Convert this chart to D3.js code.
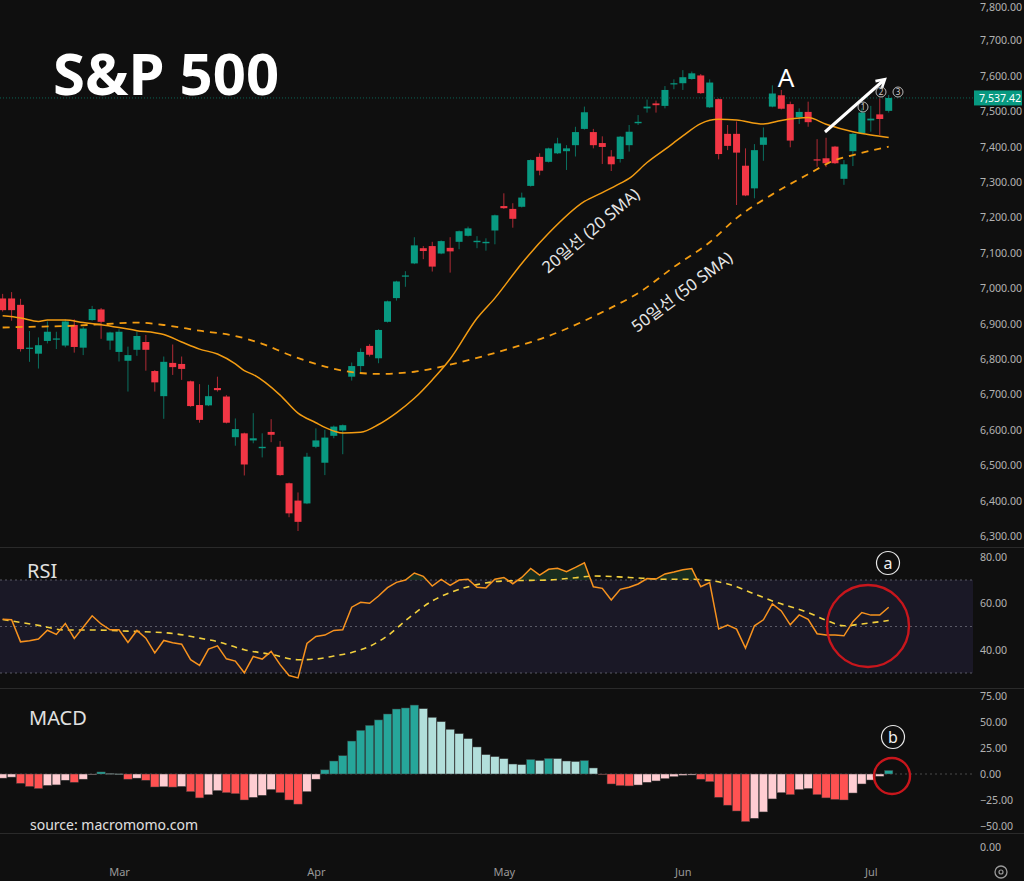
<!DOCTYPE html>
<html>
<head>
<meta charset="utf-8">
<script src="https://cdn.jsdelivr.net/npm/d3@7"></script>
<style>
	html, body { margin: 0; padding: 0; background: #0f0f0f; }
	svg { display: block; }
	text { font-family: "Noto Sans", "Noto Sans CJK KR", sans-serif; }
</style>
</head>
<body>
<div class="data_display"></div>
<script>
//Daily candles, Feb 10 to Jul 6 (bar index 0..99)
var opens = [6971, 6971, 6953, 6829, 6815, 6851, 6856, 6838, 6896, 6832,
	6910, 6940, 6852, 6820, 6795, 6826, 6848, 6766, 6695, 6789,
	6786, 6737, 6670, 6669, 6718, 6694, 6579, 6590, 6570, 6548,
	6594, 6552, 6449, 6400, 6392, 6552, 6507, 6583, 6598, 6750,
	6780, 6837, 6802, 6905, 6972, 7033, 7070, 7113, 7119, 7098,
	7114, 7131, 7148, 7130, 7127, 7163, 7232, 7224, 7230, 7289,
	7371, 7357, 7381, 7387, 7404, 7450, 7441, 7410, 7372, 7365,
	7404, 7466, 7508, 7522, 7515, 7576, 7579, 7591, 7601, 7511,
	7534, 7436, 7436, 7346, 7282, 7405, 7513, 7545, 7520, 7483,
	7498, 7364, 7367, 7400, 7309, 7387, 7438, 7474, 7491, 7501];
var highs = [6984, 6989, 6970, 6879, 6861, 6906, 6877, 6912, 6912, 6891,
	6950, 6944, 6877, 6884, 6835, 6877, 6868, 6769, 6807, 6841,
	6807, 6739, 6729, 6727, 6750, 6698, 6632, 6592, 6647, 6590,
	6630, 6568, 6451, 6423, 6535, 6604, 6600, 6612, 6615, 6790,
	6830, 6842, 6884, 6965, 7021, 7048, 7144, 7119, 7131, 7135,
	7144, 7163, 7174, 7147, 7141, 7208, 7268, 7240, 7270, 7364,
	7381, 7397, 7425, 7404, 7456, 7513, 7450, 7429, 7390, 7430,
	7461, 7489, 7533, 7530, 7571, 7590, 7616, 7612, 7605, 7590,
	7536, 7461, 7471, 7395, 7407, 7454, 7573, 7560, 7527, 7508,
	7527, 7421, 7425, 7402, 7362, 7438, 7508, 7515, 7536, 7546];
var lows = [6934, 6908, 6821, 6792, 6773, 6844, 6828, 6833, 6818, 6811,
	6908, 6857, 6826, 6793, 6708, 6809, 6767, 6708, 6631, 6755,
	6741, 6665, 6620, 6667, 6708, 6618, 6555, 6471, 6562, 6522,
	6565, 6470, 6353, 6314, 6390, 6548, 6472, 6576, 6531, 6739,
	6759, 6807, 6788, 6903, 6965, 7004, 7068, 7082, 7047, 7096,
	7044, 7110, 7146, 7113, 7106, 7124, 7224, 7171, 7228, 7287,
	7319, 7355, 7379, 7334, 7372, 7448, 7395, 7351, 7331, 7355,
	7386, 7461, 7496, 7496, 7508, 7562, 7560, 7589, 7549, 7509,
	7364, 7390, 7235, 7260, 7254, 7360, 7511, 7505, 7398, 7464,
	7456, 7343, 7342, 7351, 7292, 7345, 7436, 7442, 7433, 7496];
var closes = [6938, 6938, 6828, 6832, 6839, 6877, 6858, 6906, 6834, 6886,
	6941, 6905, 6875, 6877, 6811, 6865, 6826, 6734, 6792, 6777,
	6772, 6667, 6628, 6695, 6712, 6620, 6602, 6502, 6576, 6552,
	6586, 6472, 6364, 6340, 6524, 6570, 6578, 6609, 6613, 6780,
	6820, 6812, 6882, 6963, 7019, 7036, 7121, 7105, 7061, 7133,
	7104, 7161, 7169, 7134, 7131, 7206, 7226, 7196, 7256, 7362,
	7332, 7395, 7409, 7395, 7441, 7497, 7404, 7399, 7350, 7428,
	7442, 7470, 7513, 7517, 7560, 7579, 7596, 7607, 7551, 7581,
	7379, 7402, 7383, 7262, 7390, 7426, 7550, 7507, 7417, 7498,
	7469, 7361, 7353, 7353, 7350, 7436, 7496, 7479, 7478, 7537.42];

//Moving averages: [bar index, value]
var sma20 = [[0, 6922], [2, 6916], [4, 6906], [5, 6910], [7, 6910], [9, 6903], [11, 6897],
	[13, 6889], [15, 6880], [17, 6874], [18, 6869], [20, 6848], [22, 6828], [24, 6814],
	[26, 6786], [27, 6767], [28, 6756], [31, 6698], [33, 6647], [35, 6620], [36, 6607],
	[38, 6591], [40, 6593], [42, 6615], [44, 6648], [46, 6689], [48, 6741], [50, 6800],
	[53, 6915], [55, 6972], [58, 7070], [61, 7155], [65, 7245], [67, 7270], [69, 7296],
	[70, 7310], [72, 7355], [74, 7392], [76, 7430], [78, 7465], [80, 7477], [82, 7475],
	[85, 7464], [87, 7474], [90, 7482], [92, 7463], [95, 7442], [97, 7433], [99, 7426]];
var sma50 = [[0, 6889], [3, 6891], [7, 6893], [11, 6898], [15, 6903], [18, 6896], [22, 6880],
	[26, 6865], [29, 6843], [32, 6812], [35, 6786], [38, 6767], [42, 6758], [46, 6764],
	[50, 6784], [54, 6810], [57, 6832], [61, 6865], [65, 6908], [68, 6945], [71, 6986],
	[75, 7060], [79, 7130], [82, 7198], [86, 7265], [90, 7322], [93, 7362], [95, 7376], [99, 7400]];

var rsi = [53.1, 52.9, 43.4, 43.9, 44.6, 48.4, 46.6, 51.3, 44.9, 49.7,
	54.6, 51.1, 48.6, 48.6, 43.1, 48.3, 45, 38.6, 44, 43,
	42.4, 35.7, 33.3, 40.3, 41.7, 36.1, 35.1, 30.1, 37.1, 36,
	39.3, 33.6, 28.9, 27.9, 42.7, 45.7, 46.3, 48.3, 48.6, 58.3,
	60.4, 60, 63.1, 66.7, 69, 70, 73, 71.6, 67.4, 70.3,
	67.7, 70, 70.3, 66.9, 66.6, 70.3, 71.1, 68.4, 71.1, 75,
	72.1, 74.6, 75, 73.6, 75.4, 77.4, 67.1, 66.4, 61.4, 66,
	66.9, 68.3, 70.6, 70.4, 72.6, 73.4, 74.4, 74.9, 67.1, 68.9,
	48.9, 50.6, 48.9, 40.7, 50.3, 52.9, 59.7, 56.7, 50.7, 55,
	53.1, 46.9, 46.3, 46.3, 46, 52.1, 56, 54.9, 54.9, 58.3];
var rsiMa = [[0, 53], [4, 50.5], [7, 48.5], [10, 48.5], [14, 48], [19, 47], [22, 45], [24, 43.5],
	[27, 40], [30, 38], [33, 35.7], [35, 36], [37, 37.3], [39, 38.8], [41, 41.5], [43, 46],
	[45, 52.5], [48, 61], [50, 64.6], [53, 68], [55, 69.3], [57, 69.7], [61, 70], [64, 71],
	[66, 71.7], [70, 71.1], [74, 70.3], [77, 70.3], [81, 68.3], [84, 64], [86, 61], [90, 56],
	[92, 52.7], [94, 50.3], [96, 51.1], [99, 52.6]];

var macdHist = [-4, -3, -9, -12, -14, -11, -10.5, -6, -8, -5,
	-0.5, 2, 0.5, 0.2, -5, -4, -6, -12.5, -12.3, -12.6,
	-12, -17, -23, -20, -16, -18, -19, -25, -22.5, -20.5,
	-15, -18, -25, -29, -17, -5, 4, 12.5, 17.6, 31.7,
	42, 46.8, 52, 57.7, 62.5, 63.5, 66.3, 62.8, 54.5, 50.3,
	43, 38.8, 34, 26, 18.6, 16.7, 14.7, 9.6, 9, 14,
	13, 15, 14.8, 12.5, 12, 13, 5.8, -0.6, -9.6, -11.2,
	-11.5, -10.6, -8, -6.7, -4.5, -2.6, -1.3, -1.0, -5, -7.4,
	-22.4, -30, -35.6, -45.8, -42.6, -36.5, -24, -18, -19.9, -15,
	-14, -19.9, -23, -24.5, -25, -18.3, -9.6, -5.8, -2.2, 3.5];

var priceTicks = [6300, 6400, 6500, 6600, 6700, 6800, 6900, 7000, 7100, 7200, 7300, 7400, 7500, 7600, 7700, 7800];
var rsiTicks = [40, 60, 80];
var macdTicks = [-50, -25, 0, 25, 50, 75];
var monthIdx = [13, 35, 56, 76, 97];
var monthNames = ["Mar", "Apr", "May", "Jun", "Jul"];

var w = 1024;
var h = 881;
var plotRight = 973;
var axisFont = "10.6px";
var upColor = "#089981";
var downColor = "#f23645";

var svg = d3.select(".data_display").append("svg")
	.attr("width", w)
	.attr("height", h);

svg.append("rect")
	.attr("width", w)
	.attr("height", h)
	.attr("fill", "#0f0f0f");

//Scales
var x = d3.scaleLinear().domain([0, 99]).range([2.65, 888.7]);
var y = d3.scaleLinear().domain([6300, 7800]).range([536, 5]);
var yRsi = d3.scaleLinear().domain([30, 70]).range([673, 580]);
var yMacd = d3.scaleLinear().domain([-50, 75]).range([826, 696]);

var bars = d3.range(closes.length);

//Pane separators
[547.5, 688.5, 833.5].forEach(function(py){
	svg.append("line")
		.attr("x1", 0).attr("x2", w)
		.attr("y1", py).attr("y2", py)
		.attr("stroke", "#2a2a2a");
});

function rightAxis(scale, ticks){
	return svg.append("g")
		.attr("transform", "translate(" + plotRight + ",0)")
		.call(d3.axisRight(scale).tickValues(ticks).tickSize(0).tickPadding(7).tickFormat(d3.format(",.2f")))
		.call(function(g){ g.select(".domain").remove(); })
		.call(function(g){
			g.selectAll("text")
				.attr("fill", "#b2b2b2")
				.style("font-size", axisFont);
		});
}

/* ---------- price pane ---------- */
var main = svg.append("g");

//last price line
main.append("line")
	.attr("x1", 0).attr("x2", plotRight)
	.attr("y1", y(closes[closes.length - 1])).attr("y2", y(closes[closes.length - 1]))
	.attr("stroke", upColor)
	.attr("stroke-opacity", 0.6)
	.attr("stroke-dasharray", "1,2");

main.selectAll("line.wick")
	.data(bars)
	.enter()
	.append("line")
	.attr("class", "wick")
	.attr("x1", function(i){ return x(i); })
	.attr("x2", function(i){ return x(i); })
	.attr("y1", function(i){ return y(highs[i]); })
	.attr("y2", function(i){ return y(lows[i]); })
	.attr("stroke", function(i){ return closes[i] >= opens[i] ? upColor : downColor; })
	.attr("stroke-opacity", 0.7);

main.selectAll("rect.body")
	.data(bars)
	.enter()
	.append("rect")
	.attr("class", "body")
	.attr("x", function(i){ return x(i) - 3.5; })
	.attr("width", 7)
	.attr("y", function(i){ return y(Math.max(opens[i], closes[i])); })
	.attr("height", function(i){ return Math.max(1.2, Math.abs(y(opens[i]) - y(closes[i]))); })
	.attr("fill", function(i){ return closes[i] >= opens[i] ? upColor : downColor; });

var maLine = d3.line()
	.x(function(d){ return x(d[0]); })
	.y(function(d){ return y(d[1]); })
	.curve(d3.curveMonotoneX);

main.append("path")
	.attr("d", maLine(sma50))
	.attr("fill", "none")
	.attr("stroke", "#f39c12")
	.attr("stroke-width", 1.8)
	.attr("stroke-dasharray", "7,6");

main.append("path")
	.attr("d", maLine(sma20))
	.attr("fill", "none")
	.attr("stroke", "#f39c12")
	.attr("stroke-width", 1.5);

//top label sits on the window edge, nudge it in
rightAxis(y, priceTicks)
	.selectAll(".tick")
	.filter(function(d){ return d === 7800; })
	.select("text")
	.attr("dy", "0.55em");

//last price tag
var tag = svg.append("g").attr("transform", "translate(974," + y(closes[closes.length - 1]) + ")");
tag.append("rect")
	.attr("x", 0).attr("y", -7.5)
	.attr("width", 48).attr("height", 15)
	.attr("fill", upColor);
tag.append("text")
	.attr("x", 5).attr("y", 4)
	.attr("fill", "#ffffff")
	.style("font-size", axisFont)
	.text(d3.format(",.2f")(closes[closes.length - 1]));

//title and notes
svg.append("text")
	.attr("x", 53).attr("y", 95)
	.attr("fill", "#ffffff")
	.style("font-size", "58px")
	.style("font-weight", "bold")
	.text("S&P 500");

svg.append("text")
	.attr("x", 786).attr("y", 87)
	.attr("text-anchor", "middle")
	.attr("fill", "#ffffff")
	.style("font-size", "26px")
	.text("A");

svg.append("defs").append("marker")
	.attr("id", "head")
	.attr("viewBox", "0 0 10 10")
	.attr("refX", 7).attr("refY", 5)
	.attr("markerWidth", 4).attr("markerHeight", 4)
	.attr("orient", "auto")
	.append("path")
	.attr("d", "M1,1 L8,5 L1,9")
	.attr("fill", "none")
	.attr("stroke", "#ffffff")
	.attr("stroke-width", 2.2);

svg.append("line")
	.attr("x1", 825).attr("y1", 132)
	.attr("x2", 884).attr("y2", 80)
	.attr("stroke", "#ffffff")
	.attr("stroke-width", 3)
	.attr("marker-end", "url(#head)");

[[863, 107, "1"], [881, 92, "2"], [898, 92, "3"]].forEach(function(c){
	svg.append("circle")
		.attr("cx", c[0]).attr("cy", c[1]).attr("r", 5)
		.attr("fill", "none")
		.attr("stroke", "#c8c8c8")
		.attr("stroke-width", 0.9);
	svg.append("text")
		.attr("x", c[0]).attr("y", c[1] + 3)
		.attr("text-anchor", "middle")
		.attr("fill", "#d0d0d0")
		.style("font-size", "8px")
		.text(c[2]);
});

svg.append("text")
	.attr("transform", "translate(548,274) rotate(-40)")
	.attr("fill", "#e6e6e6")
	.style("font-size", "16.5px")
	.text("20일선 (20 SMA)");

svg.append("text")
	.attr("transform", "translate(637,333) rotate(-37)")
	.attr("fill", "#e6e6e6")
	.style("font-size", "16.5px")
	.text("50일선 (50 SMA)");

/* ---------- RSI pane ---------- */
var rsiG = svg.append("g");

rsiG.append("rect")
	.attr("x", 0).attr("width", plotRight)
	.attr("y", yRsi(70)).attr("height", yRsi(30) - yRsi(70))
	.attr("fill", "#1a1826");

[70, 50, 30].forEach(function(v){
	rsiG.append("line")
		.attr("x1", 0).attr("x2", plotRight)
		.attr("y1", yRsi(v)).attr("y2", yRsi(v))
		.attr("stroke", "#5a5a66")
		.attr("stroke-dasharray", "2,3");
});

svg.select("defs").append("clipPath")
	.attr("id", "overbought")
	.append("rect")
	.attr("x", 0).attr("y", 548)
	.attr("width", plotRight).attr("height", yRsi(70) - 548);

rsiG.append("path")
	.attr("clip-path", "url(#overbought)")
	.attr("d", d3.area()
		.x(function(i){ return x(i); })
		.y0(yRsi(70))
		.y1(function(i){ return yRsi(rsi[i]); })(bars))
	.attr("fill", "#1c3622")
	.attr("fill-opacity", 0.8);

rsiG.append("path")
	.attr("d", d3.line()
		.x(function(d){ return x(d[0]); })
		.y(function(d){ return yRsi(d[1]); })
		.curve(d3.curveMonotoneX)(rsiMa))
	.attr("fill", "none")
	.attr("stroke", "#f2cf3c")
	.attr("stroke-width", 1.6)
	.attr("stroke-dasharray", "6,5");

rsiG.append("path")
	.attr("d", d3.line()
		.x(function(i){ return x(i); })
		.y(function(i){ return yRsi(rsi[i]); })(bars))
	.attr("fill", "none")
	.attr("stroke", "#f7921e")
	.attr("stroke-width", 1.5);

rightAxis(yRsi, rsiTicks);

svg.append("text")
	.attr("x", 27).attr("y", 578)
	.attr("fill", "#e0e0e0")
	.style("font-size", "20px")
	.text("RSI");

svg.append("circle")
	.attr("cx", 868).attr("cy", 626).attr("r", 41)
	.attr("fill", "none")
	.attr("stroke", "#c8161c")
	.attr("stroke-width", 2.4);

svg.append("circle")
	.attr("cx", 888).attr("cy", 563).attr("r", 11.5)
	.attr("fill", "none")
	.attr("stroke", "#e8e8e8")
	.attr("stroke-width", 1.2);
svg.append("text")
	.attr("x", 888).attr("y", 568.5)
	.attr("text-anchor", "middle")
	.attr("fill", "#f0f0f0")
	.style("font-size", "16px")
	.text("a");

/* ---------- MACD pane ---------- */
var macdG = svg.append("g");

macdG.append("line")
	.attr("x1", 0).attr("x2", plotRight)
	.attr("y1", yMacd(0)).attr("y2", yMacd(0))
	.attr("stroke", "#4a4a4a")
	.attr("stroke-dasharray", "2,3");

function histColor(i){
	var v = macdHist[i];
	var prev = i > 0 ? macdHist[i - 1] : v;
	if(v >= 0){
		return v >= prev ? "#26a69a" : "#b2dfdb";
	}
	return v < prev ? "#ff5252" : "#ffcdd2";
}

macdG.selectAll("rect")
	.data(bars)
	.enter()
	.append("rect")
	.attr("x", function(i){ return x(i) - 4.2; })
	.attr("width", 8.4)
	.attr("y", function(i){ return Math.min(yMacd(0), yMacd(macdHist[i])); })
	.attr("height", function(i){ return Math.max(0.8, Math.abs(yMacd(macdHist[i]) - yMacd(0))); })
	.attr("fill", histColor)
	.attr("stroke", "#3a3a3a")
	.attr("stroke-width", 0.5);

rightAxis(yMacd, macdTicks);

svg.append("text")
	.attr("x", 29).attr("y", 725)
	.attr("fill", "#e0e0e0")
	.style("font-size", "20px")
	.text("MACD");

svg.append("text")
	.attr("x", 30).attr("y", 830)
	.attr("fill", "#e0e0e0")
	.style("font-size", "14px")
	.text("source: macromomo.com");

svg.append("circle")
	.attr("cx", 892).attr("cy", 776).attr("r", 18)
	.attr("fill", "none")
	.attr("stroke", "#c8161c")
	.attr("stroke-width", 2.4);

svg.append("circle")
	.attr("cx", 893).attr("cy", 737).attr("r", 11.5)
	.attr("fill", "none")
	.attr("stroke", "#e8e8e8")
	.attr("stroke-width", 1.2);
svg.append("text")
	.attr("x", 893).attr("y", 742.5)
	.attr("text-anchor", "middle")
	.attr("fill", "#f0f0f0")
	.style("font-size", "16px")
	.text("b");

//empty bottom pane label
svg.append("text")
	.attr("x", 980).attr("y", 851)
	.attr("fill", "#b2b2b2")
	.style("font-size", axisFont)
	.text("0.00");

/* ---------- time axis ---------- */
svg.append("g")
	.attr("transform", "translate(0,868)")
	.call(d3.axisBottom(x).tickValues(monthIdx).tickSize(0).tickPadding(0)
		.tickFormat(function(d, i){ return monthNames[i]; }))
	.call(function(g){ g.select(".domain").remove(); })
	.selectAll("text")
	.attr("fill", "#999999")
	.style("font-size", "11px");

//settings icon
svg.append("circle")
	.attr("cx", 1001).attr("cy", 872).attr("r", 6)
	.attr("fill", "none")
	.attr("stroke", "#9a9a9a")
	.attr("stroke-width", 1.3);
svg.append("circle")
	.attr("cx", 1001).attr("cy", 872).attr("r", 2)
	.attr("fill", "none")
	.attr("stroke", "#9a9a9a")
	.attr("stroke-width", 1.2);
</script>
</body>
</html>
